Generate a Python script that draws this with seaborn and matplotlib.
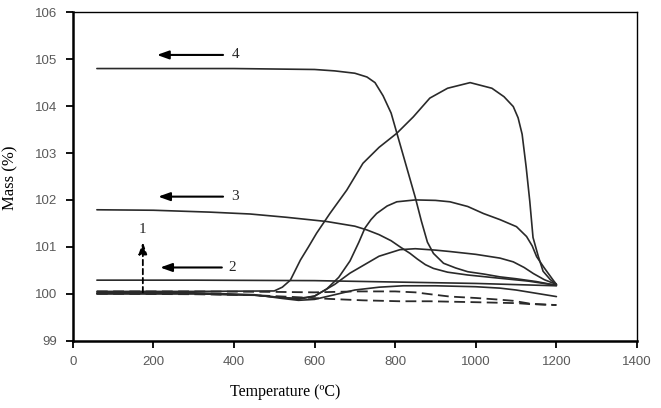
import matplotlib
matplotlib.use("Agg")
import matplotlib.pyplot as plt
import seaborn as sns
import pandas as pd

# ---- data ----
temp_4 = [60, 200, 400, 600, 650, 700, 730, 750, 770, 790, 810, 830, 850, 865, 880, 895, 920, 950, 980, 1020, 1060, 1100, 1150, 1200]
mass_4 = [104.80, 104.80, 104.80, 104.78, 104.75, 104.70, 104.62, 104.50, 104.22, 103.85, 103.25, 102.65, 102.05, 101.55, 101.10, 100.86, 100.65, 100.55, 100.47, 100.42, 100.36, 100.32, 100.26, 100.18]

temp_3 = [60, 200, 340, 440, 530, 630, 700, 730, 760, 790, 812, 837, 855, 875, 895, 930, 980, 1060, 1130, 1200]
mass_3 = [101.79, 101.78, 101.74, 101.70, 101.63, 101.54, 101.44, 101.36, 101.26, 101.13, 101.00, 100.86, 100.74, 100.62, 100.54, 100.46, 100.40, 100.33, 100.27, 100.18]

temp_2 = [60, 300, 600, 800, 1000, 1200]
mass_2 = [100.29, 100.29, 100.28, 100.25, 100.22, 100.17]

temp_a = [60, 300, 500, 520, 540, 565, 585, 605, 638, 680, 720, 760, 804, 845, 886, 930, 986, 1040, 1070, 1093, 1105, 1115, 1125, 1134, 1142, 1155, 1167, 1185, 1200]
mass_a = [100.05, 100.05, 100.06, 100.14, 100.29, 100.72, 101.00, 101.29, 101.71, 102.21, 102.78, 103.12, 103.42, 103.77, 104.17, 104.38, 104.50, 104.38, 104.20, 103.99, 103.75, 103.40, 102.70, 101.97, 101.20, 100.80, 100.48, 100.30, 100.20]

temp_b = [60, 300, 450, 520, 560, 600, 630, 660, 688, 710, 725, 740, 754, 780, 804, 850, 900, 936, 980, 1019, 1060, 1101, 1126, 1140, 1151, 1170, 1192, 1200]
mass_b = [100.00, 100.00, 99.97, 99.92, 99.90, 99.95, 100.10, 100.35, 100.70, 101.10, 101.40, 101.58, 101.71, 101.87, 101.96, 102.00, 101.99, 101.96, 101.86, 101.71, 101.58, 101.43, 101.22, 101.02, 100.79, 100.55, 100.29, 100.20]

temp_c = [60, 300, 450, 520, 560, 600, 650, 688, 720, 760, 812, 850, 900, 936, 1000, 1060, 1093, 1120, 1143, 1170, 1200]
mass_c = [100.00, 100.00, 99.97, 99.92, 99.88, 99.95, 100.20, 100.44, 100.60, 100.80, 100.94, 100.96, 100.93, 100.90, 100.84, 100.76, 100.68, 100.56, 100.43, 100.30, 100.20]

temp_d = [60, 300, 450, 520, 560, 600, 650, 700, 760, 820, 900, 1000, 1060, 1100, 1150, 1200]
mass_d = [100.02, 100.02, 99.98, 99.90, 99.86, 99.88, 99.98, 100.08, 100.14, 100.17, 100.17, 100.15, 100.12, 100.08, 100.01, 99.94]

temp_e = [60, 300, 500, 600, 700, 800, 850, 887, 936, 1000, 1050, 1093, 1134, 1170, 1200]
mass_e = [100.05, 100.05, 100.04, 100.03, 100.05, 100.05, 100.03, 99.99, 99.94, 99.91, 99.88, 99.85, 99.79, 99.77, 99.76]

temp_f = [60, 300, 450, 550, 638, 720, 812, 887, 1000, 1100, 1134, 1200]
mass_f = [100.00, 99.99, 99.97, 99.93, 99.89, 99.86, 99.84, 99.84, 99.82, 99.80, 99.78, 99.76]

x_ticks = [0, 200, 400, 600, 800, 1000, 1200, 1400]
y_ticks = [99, 100, 101, 102, 103, 104, 105, 106]

solid_series = [(temp_4, mass_4), (temp_3, mass_3), (temp_2, mass_2), (temp_a, mass_a),
                (temp_b, mass_b), (temp_c, mass_c), (temp_d, mass_d)]
dashed_series = [(temp_e, mass_e), (temp_f, mass_f)]

# ---- style ----
sns.set_style("white")
plt.rcParams["font.family"] = ["Liberation Sans", "DejaVu Sans"]

fig = plt.figure(figsize=(6.61, 4.08), dpi=100)
ax = fig.add_axes([0.110, 0.165, 0.8537, 0.805])

line_color = "#2a2a2a"
for t, m in solid_series:
    df = pd.DataFrame({"T": t, "M": m})
    sns.lineplot(data=df, x="T", y="M", ax=ax, color=line_color, lw=1.2, sort=False,
                 estimator=None)
for t, m in dashed_series:
    df = pd.DataFrame({"T": t, "M": m})
    sns.lineplot(data=df, x="T", y="M", ax=ax, color=line_color, lw=1.3, sort=False,
                 estimator=None, dashes=False)
    ax.lines[-1].set_dashes([6, 3])

ax.set_xlim(0, 1400)
ax.set_ylim(99, 106)
ax.set_xticks(x_ticks)
ax.set_yticks(y_ticks)
ax.set_xticklabels([str(v) for v in x_ticks])
ax.set_yticklabels([str(v) for v in y_ticks])
ax.tick_params(axis="both", direction="out", length=5, width=1.3, colors="black",
               labelsize=9.5, labelcolor="#595959", bottom=True, left=True, pad=6)
for name, sp in ax.spines.items():
    sp.set_visible(True)
    sp.set_color("black")
ax.spines["left"].set_linewidth(1.8)
ax.spines["bottom"].set_linewidth(1.8)
ax.spines["top"].set_linewidth(1.0)
ax.spines["right"].set_linewidth(1.0)

ax.set_xlabel("")
ax.set_ylabel("")
serif = ["Liberation Serif", "DejaVu Serif"]
fig.text(285 / 661, 1 - 392 / 408, "Temperature (ºC)", family=serif, fontsize=11.5,
         ha="center", va="center", color="black")
fig.text(10 / 661, 1 - 178 / 408, "Mass (%)", family=serif, fontsize=12, rotation=90,
         ha="center", va="center", color="black")

# ---- annotations ----
arrow_kw = dict(arrowstyle="-|>,head_length=0.7,head_width=0.25", color="black", lw=1.5,
                shrinkA=0, shrinkB=0)
for tail_x, head_x, yv, label, lx in [(373, 209, 105.09, "4", 403),
                                      (373, 212, 102.07, "3", 403),
                                      (370, 217, 100.56, "2", 395)]:
    ax.annotate("", xy=(head_x, yv), xytext=(tail_x, yv), arrowprops=arrow_kw)
    ax.text(lx, yv, label, family=serif, fontsize=11, ha="center", va="center")

ax.annotate("", xy=(174, 101.1), xytext=(174, 100.03),
            arrowprops=dict(arrowstyle="-|>,head_length=0.7,head_width=0.25", color="black",
                            lw=1.3, linestyle=(0, (3, 2)), shrinkA=0, shrinkB=0))
ax.text(174, 101.38, "1", family=serif, fontsize=11, ha="center", va="center")

fig.savefig("out.png", dpi=100)
